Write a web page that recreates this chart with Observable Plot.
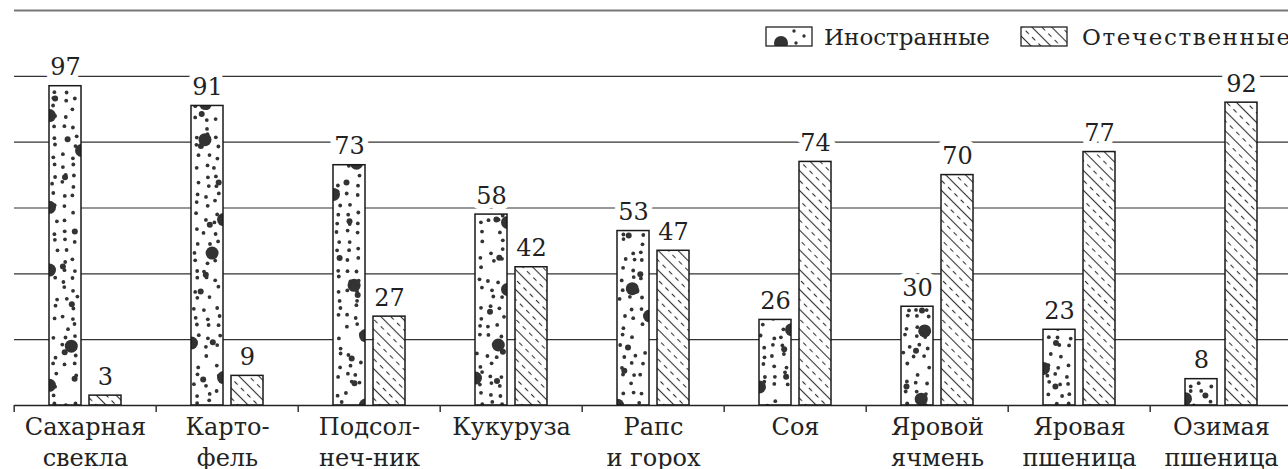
<!DOCTYPE html>
<html><head><meta charset="utf-8">
<script src="https://cdn.jsdelivr.net/npm/d3@7"></script>
<script src="https://cdn.jsdelivr.net/npm/@observablehq/plot@0.6"></script>
<style>
html,body{margin:0;padding:0;background:#fff;overflow:hidden}
#wrap{position:relative;width:1288px;height:469px}
#legend{position:absolute;left:0;top:0;pointer-events:none}
</style></head><body><div id="wrap"></div>
<script>
const categories = ["Сахарная свекла","Картофель","Подсолнечник","Кукуруза","Рапс и горох","Соя","Яровой ячмень","Яровая пшеница","Озимая пшеница"];
const tickLabels = ["Сахарная\nсвекла","Карто-\nфель","Подсол-\nнеч-ник","Кукуруза","Рапс\nи горох","Соя","Яровой\nячмень","Яровая\nпшеница","Озимая\nпшеница"];
const seriesNames = ["Иностранные","Отечественные"];
const foreign = [97,91,73,58,53,26,30,23,8];
const domestic = [3,9,27,42,47,74,70,77,92];
const yTicks = [20,40,60,80,100];
const yTop = 120;

const rows = categories.flatMap((c,i)=>[
  {category:c, series:seriesNames[0], value:foreign[i]},
  {category:c, series:seriesNames[1], value:domestic[i]}
]);

const fxRange = [11, 1294.5];
const step = (fxRange[1]-fxRange[0])/categories.length;
const font = "'DejaVu Serif', serif";

const chart = Plot.plot({
  width:1288, height:469, marginTop:10, marginBottom:64, marginLeft:11, marginRight:0,
  style:{fontFamily:font, fontSize:"23px", color:"#222", background:"#fff"},
  fx:{domain:categories, range:fxRange, padding:0, label:null},
  x:{domain:seriesNames, paddingInner:0.195, paddingOuter:0.837, axis:null},
  y:{domain:[0,yTop], axis:null},
  color:{type:"identity"},
  marks:[
    Plot.ruleY([yTop], {stroke:"#777", strokeWidth:2}),
    Plot.ruleY(yTicks, {stroke:"#333", strokeWidth:1.2}),
    Plot.barY(rows, {filter:d=>d.series===seriesNames[0], fx:"category", x:"series", y:"value",
      fill:d=>`url(#dots${categories.indexOf(d.category)})`, stroke:"#1a1a1a", strokeWidth:1.5}),
    Plot.barY(rows, {filter:d=>d.series===seriesNames[1], fx:"category", x:"series", y:"value",
      fill:"url(#hatch)", stroke:"#1a1a1a", strokeWidth:1.5}),
    Plot.ruleY([0], {stroke:"#222", strokeWidth:1.5}),
    Plot.text(rows, {fx:"category", x:"series", y:"value", text:d=>String(d.value), dy:-11, lineAnchor:"bottom",
      fill:"#222", stroke:"white", strokeWidth:12, strokeLinejoin:"round", paintOrder:"stroke", fontSize:24, fontFamily:font}),
    Plot.axisFx({anchor:"bottom", tickSize:7, dx:-step/2, tickFormat:()=>"", stroke:"#333", strokeWidth:1.5, label:null}),
    Plot.axisFx({anchor:"bottom", tickSize:0, tickPadding:8, tickFormat:d=>tickLabels[categories.indexOf(d)],
      lineHeight:1.29, fontSize:24, fontFamily:font, fill:"#222", label:null})
  ]
});

// dotted texture patterns (one per category so bars differ)
function lcg(seed){let s=seed>>>0;return ()=>((s=(Math.imul(s,1664525)+1013904223)>>>0)/4294967296);}
const W = 33, H = 410;
const circ = (x,y,r)=>`<circle cx="${x.toFixed(1)}" cy="${y.toFixed(1)}" r="${r}" fill="#333"/>`;
function dotTile(seed){
  const rnd = lcg(seed);
  let s = `<rect width="${W}" height="${H}" fill="#fff"/>`;
  for (let y=4; y<H; y+=9.5) {
    const off = rnd()*4;
    for (const cx of [5,15,25]) {
      if (rnd() < 0.18) continue;
      s += circ(cx + off - 1.5 + (rnd()-0.5)*4, y + (rnd()-0.5)*6, 1.9);
    }
  }
  for (let y=10; y<H; y+=40) s += circ(5+rnd()*23, y+rnd()*30, 3);
  for (let y=20; y<H; y+=58) {
    const r = rnd();
    const cx = r<0.35 ? 0.5 : r<0.7 ? W-0.5 : 9+rnd()*15;
    s += circ(cx, y+rnd()*38, 6.5);
  }
  return s;
}
const xs = chart.scale("x");
const barX = xs.apply(seriesNames[0]);
let pats = categories.map((c,i)=>`<pattern id="dots${i}" patternUnits="userSpaceOnUse" x="${barX}" y="0" width="${W}" height="${H}">${dotTile(101+i*37)}</pattern>`).join("");
const defs = `<defs>${pats}
<pattern id="hatch" patternUnits="userSpaceOnUse" width="9" height="14" patternTransform="rotate(45)">
<rect width="9" height="14" fill="#fff"/>
<line x1="0" y1="3.5" x2="9" y2="3.5" stroke="#333" stroke-width="1.1"/>
<line x1="0" y1="10.5" x2="9" y2="10.5" stroke="#333" stroke-width="1.1" stroke-dasharray="4.5 4.5"/>
</pattern></defs>`;
chart.insertAdjacentHTML("afterbegin", defs);
document.getElementById("wrap").appendChild(chart);

// legend overlay
const legend = `<svg id="legend" width="1288" height="60" xmlns="http://www.w3.org/2000/svg" style="font-family:&quot;DejaVu Serif&quot;, serif;font-size:23px">
<defs><clipPath id="sw1"><rect x="766" y="27" width="46" height="19"/></clipPath></defs>
<rect x="766" y="27" width="46" height="19" fill="#fff"/>
<g clip-path="url(#sw1)" fill="#333">
<circle cx="781" cy="43" r="7"/>
<circle cx="794" cy="31" r="1.7"/><circle cx="796" cy="43" r="1.7"/><circle cx="804" cy="36" r="1.7"/>
</g>
<rect x="766" y="27" width="46" height="19" fill="none" stroke="#222" stroke-width="1.3"/>
<text x="824" y="45" fill="#222">${seriesNames[0]}</text>
<rect x="1021" y="27" width="46" height="19" fill="url(#hatch)" stroke="#222" stroke-width="1.3"/>
<text x="1082" y="45" fill="#222" textLength="208" lengthAdjust="spacing">${seriesNames[1]}</text>
</svg>`;
document.getElementById("wrap").insertAdjacentHTML("beforeend", legend);
</script></body></html>
